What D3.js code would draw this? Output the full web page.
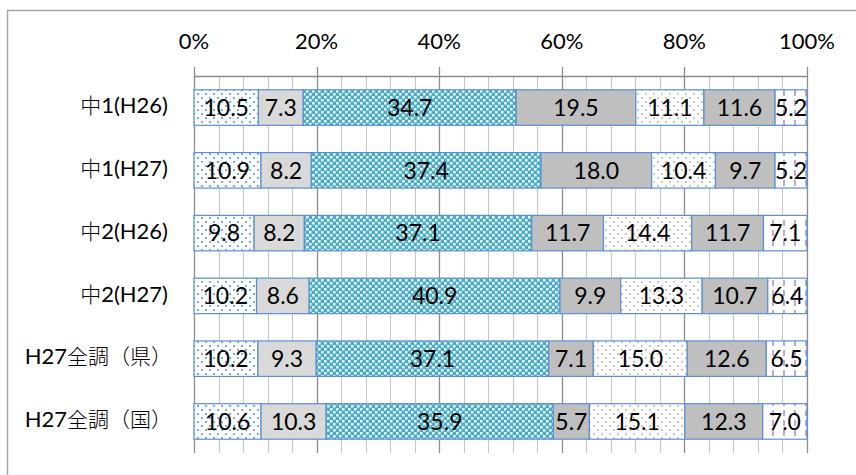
<!DOCTYPE html>
<html><head><meta charset="utf-8">
<script src="https://cdn.jsdelivr.net/npm/d3@7"></script>
<style>html,body{margin:0;padding:0;background:#fff;}svg{display:block;}</style>
</head><body>
<svg id="chart" width="856" height="475"></svg>
<script>
const categories = ["中1(H26)", "中1(H27)", "中2(H26)", "中2(H27)", "H27全調（県）", "H27全調（国）"];
const series1 = [10.5, 10.9, 9.8, 10.2, 10.2, 10.6];
const series2 = [7.3, 8.2, 8.2, 8.6, 9.3, 10.3];
const series3 = [34.7, 37.4, 37.1, 40.9, 37.1, 35.9];
const series4 = [19.5, 18.0, 11.7, 9.9, 7.1, 5.7];
const series5 = [11.1, 10.4, 14.4, 13.3, 15.0, 15.1];
const series6 = [11.6, 9.7, 11.7, 10.7, 12.6, 12.3];
const series7 = [5.2, 5.2, 7.1, 6.4, 6.5, 7.0];
const tickValues = [0, 0.2, 0.4, 0.6, 0.8, 1.0];
const tickLabels = ["0%", "20%", "40%", "60%", "80%", "100%"];

const allSeries = [series1, series2, series3, series4, series5, series6, series7];
const fills = ["url(#p-bluedots)", "#d9d9d9", "url(#p-checker)", "#bfbfbf", "url(#p-graydots)", "#bfbfbf", "url(#p-purple)"];

const svg = d3.select("#chart");
const defs = svg.append("defs");

// patterns
let p = defs.append("pattern").attr("id", "p-bluedots").attr("patternUnits", "userSpaceOnUse").attr("width", 8).attr("height", 8);
p.append("rect").attr("width", 8).attr("height", 8).attr("fill", "#fff");
p.append("circle").attr("cx", 2).attr("cy", 2).attr("r", 1.1).attr("fill", "#5b9bd5");
p.append("circle").attr("cx", 6).attr("cy", 6).attr("r", 1.1).attr("fill", "#5b9bd5");

p = defs.append("pattern").attr("id", "p-checker").attr("patternUnits", "userSpaceOnUse").attr("width", 6).attr("height", 6);
p.append("rect").attr("width", 6).attr("height", 6).attr("fill", "#4bacc6");
p.append("rect").attr("x", 0).attr("y", 0).attr("width", 2.6).attr("height", 2.6).attr("fill", "#e6f4f8");
p.append("rect").attr("x", 3).attr("y", 3).attr("width", 2.6).attr("height", 2.6).attr("fill", "#e6f4f8");

p = defs.append("pattern").attr("id", "p-graydots").attr("patternUnits", "userSpaceOnUse").attr("width", 8).attr("height", 8);
p.append("rect").attr("width", 8).attr("height", 8).attr("fill", "#fff");
p.append("circle").attr("cx", 2).attr("cy", 2).attr("r", 0.9).attr("fill", "#b0b0b0");
p.append("circle").attr("cx", 6).attr("cy", 6).attr("r", 0.9).attr("fill", "#b0b0b0");

p = defs.append("pattern").attr("id", "p-purple").attr("patternUnits", "userSpaceOnUse").attr("width", 11).attr("height", 10);
p.append("rect").attr("width", 11).attr("height", 10).attr("fill", "#fff");
p.append("line").attr("x1", 3).attr("x2", 3).attr("y1", 0).attr("y2", 6).attr("stroke", "#b4a0d8").attr("stroke-width", 1.8);

// outer border
svg.append("rect").attr("x", 7.5).attr("y", 10.5).attr("width", 1000).attr("height", 1000)
  .attr("fill", "#fff").attr("stroke", "#a6a6a6").attr("stroke-width", 1.5);

const x = d3.scaleLinear().domain([0, 1]).range([194, 807]);
const y = d3.scaleBand().domain(categories).range([76, 453]).paddingInner(0.435).paddingOuter(0.22);

// gridlines
const gridVals = d3.range(0, 26).map(i => i * 0.04);
svg.append("g").selectAll("line").data(gridVals).join("line")
  .attr("x1", d => Math.round(x(d)) + 0.5).attr("x2", d => Math.round(x(d)) + 0.5)
  .attr("y1", (d, i) => i % 5 === 0 ? 67 : 76).attr("y2", 453)
  .attr("stroke", (d, i) => i % 5 === 0 ? "#8c8c8c" : "#c6c6c6")
  .attr("stroke-width", (d, i) => i % 5 === 0 ? 1.3 : 1.1);
svg.append("line").attr("x1", x(0)).attr("x2", x(1)).attr("y1", 76.5).attr("y2", 76.5)
  .attr("stroke", "#8c8c8c").attr("stroke-width", 1.3);

// tick labels
svg.append("g").selectAll("text").data(tickValues).join("text")
  .attr("x", d => x(d)).attr("y", 49).attr("text-anchor", "middle")
  .attr("font-family", "Lato, 'Noto Sans', sans-serif").attr("font-size", 22).attr("fill", "#000")
  .text((d, i) => tickLabels[i]);

// bars
const rows = categories.map((c, i) => {
  const vals = allSeries.map(s => s[i]);
  const total = d3.sum(vals);
  let cum = 0;
  return vals.map((v, k) => {
    const seg = { cat: c, k, v, x0: cum / total, x1: (cum + v) / total };
    cum += v;
    return seg;
  });
}).flat();

svg.append("g").selectAll("rect").data(rows).join("rect")
  .attr("x", d => x(d.x0)).attr("width", d => x(d.x1) - x(d.x0))
  .attr("y", d => y(d.cat)).attr("height", y.bandwidth())
  .attr("fill", d => fills[d.k]).attr("stroke", "#5b8fd3").attr("stroke-width", 1.2);

svg.append("g").selectAll("text").data(rows).join("text")
  .attr("x", d => (x(d.x0) + x(d.x1)) / 2).attr("y", d => y(d.cat) + y.bandwidth() / 2)
  .attr("dy", "0.36em").attr("text-anchor", "middle")
  .attr("font-family", "Lato, 'Noto Sans', sans-serif").attr("font-size", 23).attr("fill", "#000")
  .text(d => d.v.toFixed(1));

// category labels
const catG = svg.append("g");
categories.forEach(c => {
  const endsWide = /）$/.test(c);
  const t = catG.append("text").attr("x", endsWide ? 172 : 168).attr("y", y(c) + y.bandwidth() / 2).attr("dy", "0.36em")
    .attr("text-anchor", "end").attr("fill", "#000");
  const runs = c.match(/[\x00-\x7F]+|[^\x00-\x7F]+/g);
  runs.forEach(r => {
    const latin = /^[\x00-\x7F]+$/.test(r);
    t.append("tspan").text(r)
      .attr("font-family", latin ? "Lato, 'Noto Sans', sans-serif" : "'Noto Sans CJK JP', sans-serif")
      .attr("font-weight", latin ? 400 : 300)
      .attr("font-size", latin ? 22 : 21);
  });
});
</script>
</body></html>
